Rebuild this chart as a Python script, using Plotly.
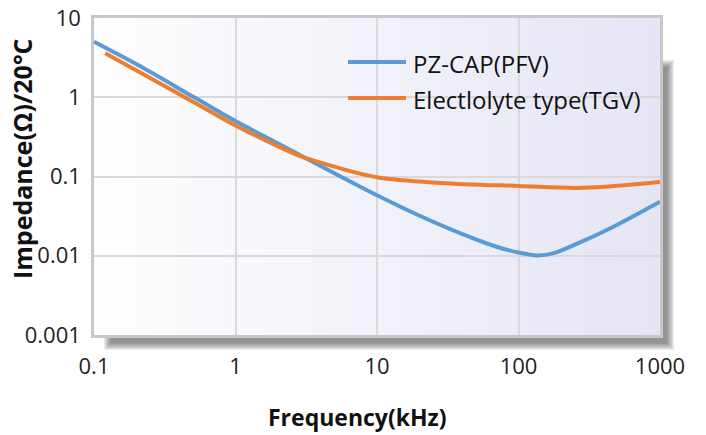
import plotly.graph_objects as go

# ---------------- data ----------------
pz_freq = [0.1, 0.2, 0.5, 1, 2, 3, 5, 10, 20, 45, 70, 100, 135, 175, 260, 450, 1000]
pz_imp = [5.0, 2.6, 1.02, 0.50, 0.26, 0.178, 0.11, 0.058, 0.032, 0.0173, 0.0130, 0.0110, 0.0101, 0.0107, 0.0142, 0.0224, 0.048]

el_freq = [0.12, 0.2, 0.5, 1, 2, 3, 5, 10, 28, 100, 285, 1000]
el_imp = [3.6, 2.17, 0.88, 0.44, 0.24, 0.175, 0.133, 0.098, 0.083, 0.076, 0.072, 0.085]

series_names = ["PZ-CAP(PFV)", "Electlolyte type(TGV)"]
series_colors = ["#5b9bd5", "#ed7d31"]
x_ticks = [0.1, 1, 10, 100, 1000]
x_ticktext = ["0.1", "1", "10", "100", "1000"]
y_ticks = [10, 1, 0.1, 0.01, 0.001]
y_ticktext = ["10", "1", "0.1", "0.01", "0.001"]
x_title = "Frequency(kHz)"
y_title = "Impedance(Ω)/20°C"

# ---------------- layout geometry (window pixel space) ----------------
W, H = 706, 435
PL, PT, PR, PB = 94, 18, 660, 335  # plot area in window pixels
PW, PH = PR - PL, PB - PT
L, T = PL, PT
R, B = W - L - PW, H - T - PH
FONT = "Open Sans"


def px(xp):
    return (xp - PL) / PW


def py(yp):
    return (PB - yp) / PH


shapes = []
# soft drop shadow (right and bottom), drawn before gradient so plot area covers it
for i in range(8):
    shapes.append(dict(type="rect", xref="paper", yref="paper", layer="below",
                       x0=px(104 + i), x1=px(674 - i), y0=py(350 - i), y1=py(60 + i),
                       fillcolor="rgba(80,80,80,0.11)", line=dict(width=0)))

# gradient plot background
N = 70
c0 = (254, 254, 255)
c1 = (229, 229, 244)
for i in range(N):
    t = i / (N - 1)
    c = tuple(round(c0[k] + (c1[k] - c0[k]) * t) for k in range(3))
    shapes.append(dict(type="rect", xref="paper", yref="paper", layer="below",
                       x0=i / N, x1=(i + 1) / N + 0.002, y0=0, y1=1,
                       fillcolor=f"rgb{c}", line=dict(width=0)))

# legend samples
legend_rows = [62, 98]
annotations = []
for name, color, yr in zip(series_names, series_colors, legend_rows):
    shapes.append(dict(type="line", xref="paper", yref="paper", layer="above",
                       x0=px(348), x1=px(406), y0=py(yr), y1=py(yr),
                       line=dict(color=color, width=4)))
    annotations.append(dict(text=name, xref="paper", yref="paper", x=px(411), y=py(yr + 2),
                            xanchor="left", yanchor="middle", showarrow=False,
                            font=dict(family=FONT, size=24, color="#111")))

fig = go.Figure()
for fx, fy, name, color in [(pz_freq, pz_imp, series_names[0], series_colors[0]),
                            (el_freq, el_imp, series_names[1], series_colors[1])]:
    fig.add_trace(go.Scatter(x=fx, y=fy, mode="lines", name=name, showlegend=False,
                             line=dict(color=color, width=4, shape="spline", smoothing=1.0)))

axis_common = dict(showgrid=True, gridcolor="#d9d9d9", gridwidth=2,
                   showline=True, linecolor="#c8c8c8", linewidth=2.5, mirror=True,
                   zeroline=False, ticks="", ticklabeloverflow="allow",
                   tickfont=dict(family=FONT, size=22, color="#222"))

annotations += [
    dict(text=f"<b>{x_title}</b>", xref="paper", yref="paper",
         x=px(357), y=py(417), xanchor="center", yanchor="middle", showarrow=False,
         font=dict(family=FONT, size=23, color="#111")),
    dict(text=f"<b>{y_title}</b>", xref="paper", yref="paper", textangle=-90,
         x=px(22), y=py(159), xanchor="center", yanchor="middle", showarrow=False,
         font=dict(family=FONT, size=25, color="#111")),
]

fig.update_layout(
    width=W, height=H,
    margin=dict(l=L, r=R, t=T, b=B, pad=0),
    paper_bgcolor="white",
    plot_bgcolor="white",
    showlegend=False,
    xaxis=dict(type="log", range=[-1, 3], tickvals=x_ticks, ticktext=x_ticktext,
               ticklabelstandoff=10, automargin=False, **axis_common),
    yaxis=dict(type="log", range=[-3, 1], tickvals=y_ticks, ticktext=y_ticktext,
               ticklabelstandoff=6, automargin=False, **axis_common),
    shapes=shapes,
    annotations=annotations,
)

fig.write_html("out.html", config={"displayModeBar": False},
               post_script="document.body.style.margin='0';")
